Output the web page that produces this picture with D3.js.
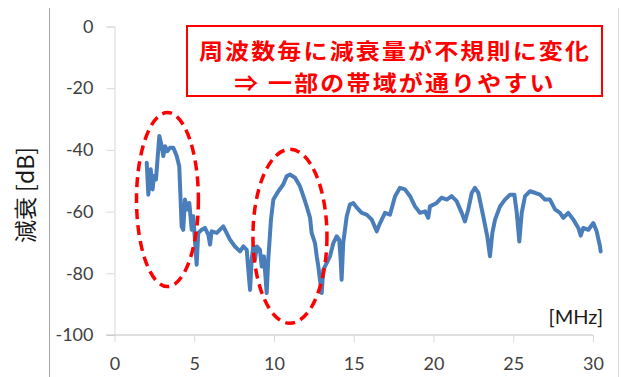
<!DOCTYPE html>
<html>
<head>
<meta charset="utf-8">
<script src="https://cdn.jsdelivr.net/npm/d3@7"></script>
<style>
  html, body { margin: 0; padding: 0; background: #fff; }
  svg { display: block; }
</style>
</head>
<body>
<svg id="chart" width="621" height="377"></svg>
<script>
// Frequency sweep: attenuation per frequency
const freqMHz = [
  2.02, 2.12, 2.27, 2.39, 2.48, 2.60, 2.81, 2.96, 3.06, 3.17, 3.31, 3.48, 3.69, 3.90, 4.06,
  4.21, 4.31, 4.42, 4.56, 4.69, 4.84, 4.94, 5.15, 5.25, 5.47, 5.67, 5.88, 5.99, 6.09, 6.41,
  6.82, 7.24, 7.55, 7.87, 8.08, 8.29, 8.39, 8.50, 8.60, 8.70, 8.81, 8.92, 9.12, 9.23, 9.37,
  9.48, 9.54, 9.64, 9.81, 9.96, 10.27, 10.58, 10.80, 11.00, 11.32, 11.63, 11.84, 12.05, 12.26,
  12.36, 12.57, 12.68, 12.78, 12.88, 12.99, 13.09, 13.30, 13.51, 13.72, 13.93, 14.09, 14.18,
  14.24, 14.34, 14.56, 14.76, 14.97, 15.19, 15.50, 15.81, 16.13, 16.44, 16.65, 16.96, 17.27,
  17.59, 17.90, 18.21, 18.53, 18.84, 19.15, 19.47, 19.67, 19.78, 20.20, 20.51, 20.83, 21.14,
  21.45, 21.77, 21.97, 22.18, 22.40, 22.60, 22.81, 23.12, 23.37, 23.54, 23.69, 23.86, 24.17,
  24.48, 24.80, 25.07, 25.22, 25.38, 25.53, 25.74, 26.05, 26.36, 26.68, 26.99, 27.30, 27.62,
  27.93, 28.14, 28.45, 28.77, 29.08, 29.23, 29.39, 29.71, 30.02, 30.23, 30.44, 30.48
];
const attenDB = [
  -44.2, -54.5, -46.3, -52.8, -48.5, -49.6, -35.5, -38.8, -42.0, -38.8, -40.4, -39.3, -39.3, -42.0, -45.3,
  -64.8, -65.9, -56.1, -59.3, -57.2, -65.9, -61.5, -77.2, -66.9, -65.9, -65.3, -67.5, -70.7, -66.4, -66.9,
  -64.8, -69.1, -71.3, -72.9, -71.3, -72.4, -78.9, -85.4, -75.6, -71.3, -75.6, -71.3, -72.4, -77.8, -74.5,
  -82.1, -86.4, -75.6, -62.6, -56.1, -53.4, -51.2, -48.5, -48.0, -49.0, -51.8, -55.0, -58.3, -62.0,
  -66.9, -70.2, -74.5, -77.8, -82.1, -86.4, -78.9, -76.7, -74.5, -70.2, -68.0, -69.1, -75.6,
  -82.1, -70.2, -61.5, -57.7, -57.2, -58.7, -60.4, -61.0, -62.6, -66.4, -63.7, -60.4, -61.0,
  -55.0, -52.3, -52.8, -55.0, -58.3, -60.4, -59.9, -62.0, -58.3, -57.2, -55.5, -56.1, -55.0,
  -56.6, -60.4, -63.2, -59.3, -53.9, -52.3, -53.9, -61.5, -68.0, -74.5, -66.9, -62.6, -58.3,
  -56.1, -54.5, -54.5, -60.4, -69.7, -60.4, -55.0, -53.4, -53.9, -54.5, -56.1, -56.1, -59.3,
  -60.4, -62.0, -60.4, -62.6, -65.3, -67.8, -65.3, -65.9, -63.7, -66.4, -71.3, -72.9
];

const xTicks = [0, 5, 10, 15, 20, 25, 30];
const yTicks = [0, -20, -40, -60, -80, -100];

const noteLines = ["周波数毎に減衰量が不規則に変化", "⇒ 一部の帯域が通りやすい"];
const yTitle = "減衰 [dB]";
const xUnit = "[MHz]";

// Highlighted regions: [centre MHz, centre dB, half-width MHz, half-height dB]
const highlights = [
  [3.32, -56.1, 1.94, 28.2],
  [11.0, -68.0, 2.32, 28.2]
];

const svg = d3.select("#chart");
const x = d3.scaleLinear().domain([0, 30]).range([114.5, 593]);
const y = d3.scaleLinear().domain([0, -100]).range([26.5, 335]);

const tickFont = "Lato, 'Open Sans', sans-serif";
const plain = d => String(d);

// Outer chart-area edges
svg.append("line").attr("x1", 49.5).attr("x2", 49.5).attr("y1", 8).attr("y2", 377)
  .attr("stroke", "#a6a6a6").attr("stroke-width", 1);
svg.append("line").attr("x1", 618.5).attr("x2", 618.5).attr("y1", 8).attr("y2", 377)
  .attr("stroke", "#d9d9d9").attr("stroke-width", 1);

// Y axis
const yAxis = svg.append("g").attr("transform", `translate(${x(0)},0)`)
  .call(d3.axisLeft(y).tickValues(yTicks).tickSize(8).tickPadding(13).tickFormat(plain));
yAxis.select(".domain").attr("stroke", "#d9d9d9");
yAxis.selectAll(".tick line").attr("stroke", "#d9d9d9");
yAxis.selectAll(".tick text").attr("fill", "#404040").style("font-family", tickFont).style("font-size", "18px");

// X axis
const xAxis = svg.append("g").attr("transform", `translate(0,${y(-100)})`)
  .call(d3.axisBottom(x).tickValues(xTicks).tickSize(7).tickPadding(15).tickFormat(plain));
xAxis.select(".domain").attr("d", `M${x(0) - 8},0H${x(30)}`).attr("stroke", "#bfbfbf");
xAxis.selectAll(".tick line").attr("stroke", "#d9d9d9");
xAxis.selectAll(".tick text").attr("fill", "#404040").style("font-family", tickFont).style("font-size", "18px");

// Attenuation trace
const pts = freqMHz.map((f, i) => [f, attenDB[i]]);
svg.append("path")
  .datum(pts)
  .attr("fill", "none")
  .attr("stroke", "#4a7ebb")
  .attr("stroke-width", 4)
  .attr("stroke-linejoin", "round")
  .attr("stroke-linecap", "round")
  .attr("d", d3.line().x(d => x(d[0])).y(d => y(d[1])));

// Dashed highlight ellipses
svg.selectAll("ellipse.hl").data(highlights).join("ellipse")
  .attr("class", "hl")
  .attr("cx", d => x(d[0]))
  .attr("cy", d => y(d[1]))
  .attr("rx", d => x(d[2]) - x(0))
  .attr("ry", d => y(-d[3]) - y(0))
  .attr("fill", "none")
  .attr("stroke", "#ff0000")
  .attr("stroke-width", 3.5)
  .attr("stroke-dasharray", "10,6");

// Axis titles
svg.append("text")
  .attr("transform", "translate(34,195) rotate(-90)")
  .attr("text-anchor", "middle")
  .attr("fill", "#1a1a1a")
  .style("font-family", "'Noto Sans CJK JP', sans-serif")
  .style("font-size", "23px")
  .text(yTitle);

svg.append("text")
  .attr("x", 603).attr("y", 324)
  .attr("text-anchor", "end")
  .attr("fill", "#1a1a1a")
  .style("font-family", tickFont)
  .style("font-size", "20px")
  .text(xUnit);

// Callout box
const note = svg.append("g");
note.append("rect")
  .attr("x", 187).attr("y", 26).attr("width", 415).attr("height", 70)
  .attr("fill", "#fff").attr("stroke", "#ff0000").attr("stroke-width", 2);
note.selectAll("text").data(noteLines).join("text")
  .attr("transform", (d, i) => `translate(395,${59 + i * 32}) scale(1.09,1)`)
  .attr("text-anchor", "middle")
  .attr("fill", "#ff0000")
  .style("font-family", "'Noto Sans CJK JP', sans-serif")
  .style("font-weight", "bold")
  .style("font-size", "22px")
  .style("letter-spacing", "2px")
  .text(d => d);
</script>
</body>
</html>
